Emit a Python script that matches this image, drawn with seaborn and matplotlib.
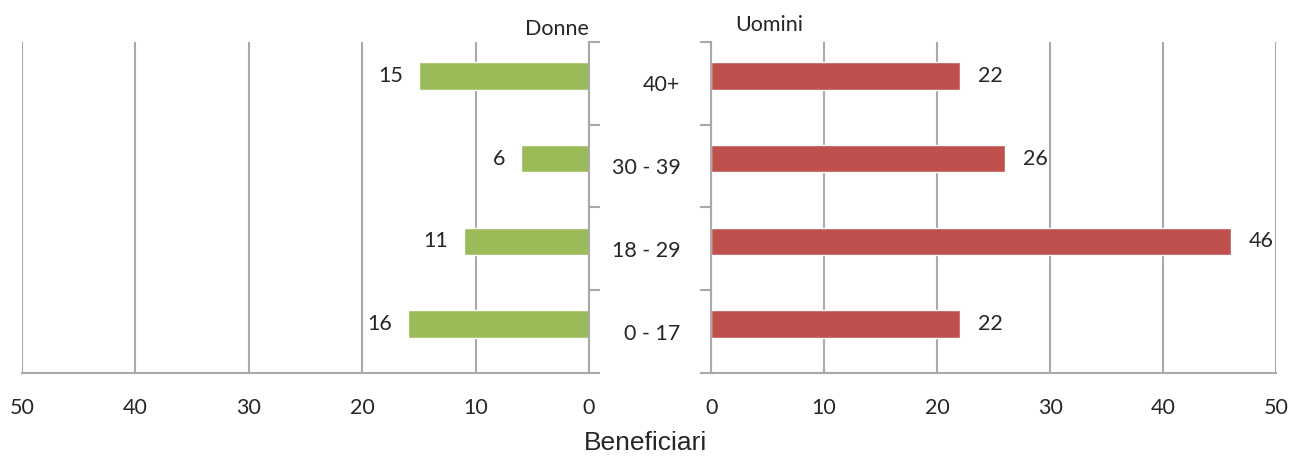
import numpy as np
import pandas as pd
import matplotlib
matplotlib.use('Agg')
import matplotlib.pyplot as plt
import seaborn as sns

categorie = ['40+', '30 - 39', '18 - 29', '0 - 17']
donne = [15, 6, 11, 16]
uomini = [22, 26, 46, 22]

sns.set_style('white')
plt.rcParams['font.family'] = ['Lato', 'DejaVu Sans']

df_d = pd.DataFrame({'fascia': categorie, 'n': donne})
df_u = pd.DataFrame({'fascia': categorie, 'n': uomini})

fig = plt.figure(figsize=(12.93, 4.57), dpi=100)
ax1 = fig.add_axes([0.017, 0.184, 0.4385, 0.724])
ax2 = fig.add_axes([0.55, 0.184, 0.437, 0.724])

grigio = '#a9a9a9'
off = 0.09
fs = 15.5

for ax, df, col in [(ax1, df_d, '#9bbb59'), (ax2, df_u, '#c0504d')]:
    sns.barplot(data=df, x='n', y='fascia', order=categorie, color=col,
                width=0.33, saturation=1, ax=ax)
    ax.set_xlim(0, 50)
    ax.set_ylim(3.5 + off, -0.5 + off)
    ax.set_xticks(range(0, 51, 10))
    ax.xaxis.grid(True, color=grigio, linewidth=1.5)
    ax.set_axisbelow(True)
    ax.set_xlabel('')
    ax.set_ylabel('')
    ax.tick_params(axis='x', length=8, width=1.5, color=grigio, labelsize=fs, pad=10, direction='out')
    ax.spines['top'].set_visible(False)
    for s in ['left', 'right', 'bottom']:
        ax.spines[s].set_color(grigio)
        ax.spines[s].set_linewidth(1.5)
    confini = [i - 0.5 + off for i in range(5)]
    ax.set_yticks(confini, minor=True)
    ax.tick_params(axis='y', which='minor', length=8, width=1.5, color=grigio, direction='out')

# pannello donne
ax1.invert_xaxis()
ax1.spines['left'].set_visible(False)
ax1.yaxis.set_ticks_position('right')
ax1.set_yticks([])
ax1.tick_params(axis='y', which='minor', right=True, left=False)
for i, v in enumerate(donne):
    ax1.text(v + 1.4, i, str(v), ha='right', va='center', fontsize=fs)
ax1.text(1.0, 1.01, 'Donne', transform=ax1.transAxes, ha='right', va='bottom', fontsize=fs)

# pannello uomini
ax2.spines['right'].set_visible(False)
ax2.set_yticks([i + off for i in range(4)])
ax2.set_yticklabels(categorie)
ax2.tick_params(axis='y', which='major', length=0, labelsize=fs, pad=22)
ax2.tick_params(axis='y', which='minor', left=True, right=False)
for i, v in enumerate(uomini):
    ax2.text(v + 1.6, i, str(v), ha='left', va='center', fontsize=fs)
ax2.text(0.043, 1.02, 'Uomini', transform=ax2.transAxes, ha='left', va='bottom', fontsize=fs)

fig.text(0.499, 0.004, 'Beneficiari', ha='center', va='bottom', fontsize=19,
         family=['Liberation Sans', 'DejaVu Sans'])

fig.savefig('out.png', dpi=100)
